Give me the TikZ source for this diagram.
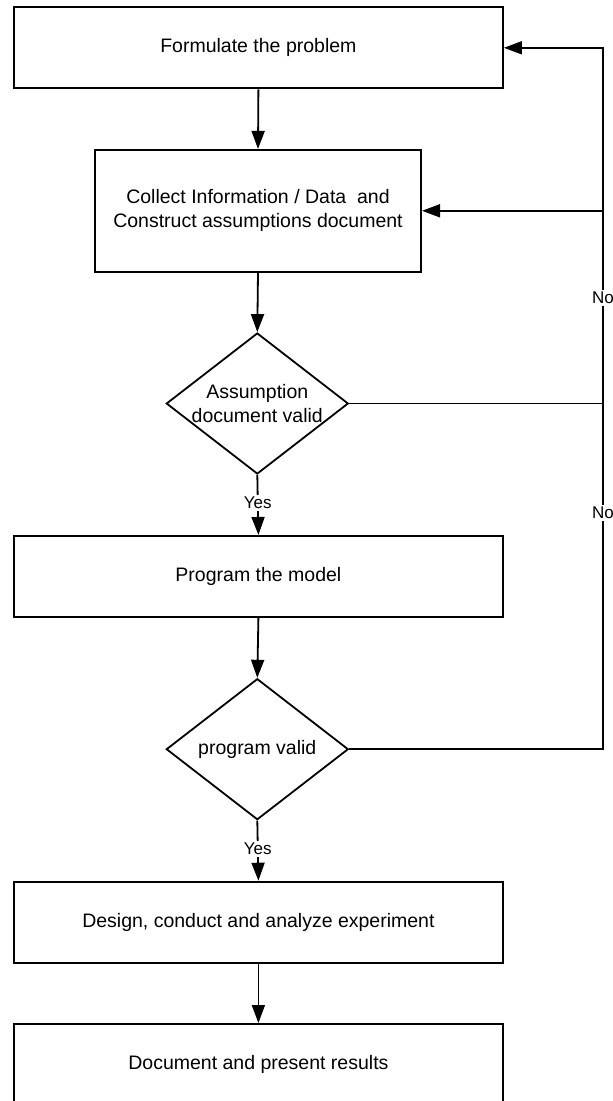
\documentclass[tikz,border=0pt]{standalone}
\usepackage{fontspec}
\setmainfont{Liberation Sans}
\usetikzlibrary{arrows.meta,shapes.geometric}

\tikzset{
  stepbox/.style={draw, line width=2pt, minimum width=489pt, inner sep=0pt,
                  align=center, font=\fontsize{19.5}{24}\selectfont},
  decide/.style={draw, diamond, line width=1.8pt, minimum width=182pt,
                 minimum height=141pt, inner sep=0pt},
  decidetext/.style={align=center, inner sep=0pt, font=\fontsize{19.5}{24}\selectfont},
  conn/.style={line width=1.8pt},
  arr/.style={conn, -{Triangle[length=18pt,width=13pt]}},
  lbl/.style={fill=white, inner sep=2pt, font=\fontsize{17}{20}\selectfont}
}

\begin{document}
\begin{tikzpicture}[x=1pt,y=-1pt]
  \useasboundingbox (0,0) rectangle (613,1101);

  % process steps
  \node[stepbox, minimum height=81pt] (b1) at (258.4,47.8) {Formulate the problem};
  \node[stepbox, minimum width=326pt, minimum height=121.7pt] (b2) at (258,210.8)
       {Collect Information / Data \ and\\Construct assumptions document};
  \node[decide] (d1) at (257.3,403.5) {};
  \node[decidetext] (d1t) at (d1) {Assumption\\document valid};
  \node[stepbox, minimum height=80.7pt] (b3) at (258.4,576.3) {Program the model};
  \node[decide] (d2) at (257.3,749.2) {};
  \node[decidetext] (d2t) at (d2) {program valid};
  \node[stepbox, minimum height=81pt] (b4) at (258.4,922.2) {Design, conduct and analyze experiment};
  \node[stepbox, minimum height=81pt] (b5) at (258.4,1064.5) {Document and present results};

  % return line on the right
  \coordinate (rx) at (603,0);

  % main flow
  \draw[arr] (b1.south) -- (b2.north);
  \draw[arr] (b2.south) -- (d1.north);
  \draw[arr] (d1.south) -- node[lbl, pos=0.47] {Yes} (b3.north);
  \draw[arr] (b3.south) -- (d2.north);
  \draw[arr] (d2.south) -- node[lbl, pos=0.47] {Yes} (b4.north);
  \draw[arr] (b4.south) -- (b5.north);

  % "No" branches back to the top
  \draw[conn] (d1.east) -- (d1.east -| rx);
  \draw[arr] (d2.east) -- (d2.east -| rx) -- (b1.east -| rx) -- (b1.east);
  \draw[arr] (b2.east -| rx) -- (b2.east);
  \node[lbl] (no1) at (603,298) {No};
  \node[lbl] (no2) at (603,513) {No};
\end{tikzpicture}
\end{document}
